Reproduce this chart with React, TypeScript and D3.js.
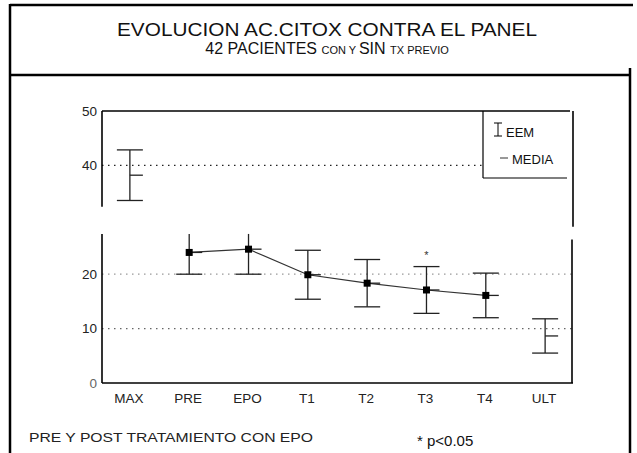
import React, { useEffect, useRef } from "react";
import * as d3 from "d3";

// valores (media y EEM)
const categories = ["MAX", "PRE", "EPO", "T1", "T2", "T3", "T4", "ULT"];
const means = [38.2, 24.0, 24.6, 19.9, 18.35, 17.1, 16.1, 8.65];
const sem = [4.65, 4.0, 4.6, 4.5, 4.35, 4.3, 4.1, 3.15];
const connected = ["PRE", "EPO", "T1", "T2", "T3", "T4"];
const significant = ["T3"];
const yTicks = [0, 10, 20, 40, 50];
const dottedLines = [40, 20, 10];

const W = 637;
const H = 453;
const left = 102, right = 573, top = 111, bottom = 383;
const legendLeft = 483, legendBottom = 178;

export default function App() {
  const ref = useRef<SVGSVGElement | null>(null);

  useEffect(() => {
    const svg = d3.select(ref.current);
    svg.selectAll("*").remove();

    const x = d3.scalePoint<string>().domain(categories).range([left, right]).padding(0.47);
    const y = d3.scaleLinear().domain([0, 50]).range([bottom, top]);
    const font = "'Liberation Sans', Arial, sans-serif";
    const breakLow = 27.4, breakHigh = 32.4;

    // marco general
    svg.append("line").attr("x1", 10).attr("x2", 633).attr("y1", 5).attr("y2", 5)
      .attr("stroke", "#000").attr("stroke-width", 2.5);
    svg.append("line").attr("x1", 10).attr("x2", 10).attr("y1", 4).attr("y2", H)
      .attr("stroke", "#000").attr("stroke-width", 2.5);
    svg.append("line").attr("x1", 10).attr("x2", 631).attr("y1", 75).attr("y2", 75)
      .attr("stroke", "#000").attr("stroke-width", 2.5);
    svg.append("line").attr("x1", 630).attr("x2", 630).attr("y1", 68).attr("y2", H)
      .attr("stroke", "#000").attr("stroke-width", 2.5);

    // titulo
    svg.append("text").attr("x", 327).attr("y", 36).attr("text-anchor", "middle")
      .attr("font-family", "'Liberation Sans Narrow', 'Liberation Sans', sans-serif")
      .attr("font-size", 18).attr("textLength", 420).attr("lengthAdjust", "spacingAndGlyphs")
      .attr("fill", "#111").text("EVOLUCION AC.CITOX CONTRA EL PANEL");
    const sub = svg.append("text").attr("x", 327).attr("y", 54).attr("text-anchor", "middle")
      .attr("font-family", "'Liberation Sans Narrow', 'Liberation Sans', sans-serif")
      .attr("fill", "#111");
    [["42 PACIENTES ", 16], ["CON Y ", 11], ["SIN ", 16], ["TX PREVIO", 11]].forEach(([t, s]) => {
      sub.append("tspan").attr("font-size", s as number).text(t as string);
    });

    // cuadricula punteada
    dottedLines.forEach((v) => {
      svg.append("line")
        .attr("x1", left).attr("x2", v === 40 ? legendLeft : right)
        .attr("y1", y(v)).attr("y2", y(v))
        .attr("stroke", v === 20 ? "#999" : v === 10 ? "#666" : "#222")
        .attr("stroke-width", v === 40 ? 1.3 : 1.2)
        .attr("stroke-dasharray", "1.5,4.5");
    });

    // ejes con corte
    const axis = svg.append("g").attr("stroke", "#000").attr("stroke-width", 1.6);
    axis.append("line").attr("x1", left).attr("x2", left).attr("y1", y(50)).attr("y2", y(breakHigh));
    axis.append("line").attr("x1", left).attr("x2", left).attr("y1", y(breakLow)).attr("y2", y(0));
    axis.append("line").attr("x1", left).attr("x2", right).attr("y1", y(0)).attr("y2", y(0));
    axis.append("line").attr("x1", left).attr("x2", right - 3).attr("y1", y(50)).attr("y2", y(50));
    axis.append("line").attr("x1", right).attr("x2", right).attr("y1", y(50)).attr("y2", y(28.7));
    axis.append("line").attr("x1", right - 1).attr("x2", right - 1).attr("y1", y(26.4)).attr("y2", y(0));

    // leyenda
    const leg = svg.append("g");
    leg.append("line").attr("x1", legendLeft).attr("x2", legendLeft).attr("y1", top).attr("y2", legendBottom)
      .attr("stroke", "#000").attr("stroke-width", 1.2);
    leg.append("line").attr("x1", legendLeft).attr("x2", right - 6).attr("y1", legendBottom).attr("y2", legendBottom)
      .attr("stroke", "#000").attr("stroke-width", 1.2);
    leg.append("path").attr("d", "M494,123 H502 M498,123 V136 M494,136 H502")
      .attr("stroke", "#000").attr("stroke-width", 1).attr("fill", "none");
    leg.append("text").attr("x", 506).attr("y", 137).attr("font-family", font)
      .attr("font-size", 13).attr("fill", "#111").text("EEM");
    leg.append("line").attr("x1", 500).attr("x2", 508).attr("y1", 158).attr("y2", 158)
      .attr("stroke", "#333").attr("stroke-width", 1);
    leg.append("text").attr("x", 512).attr("y", 164).attr("font-family", font)
      .attr("font-size", 13).attr("fill", "#111").text("MEDIA");

    // etiquetas de ejes
    svg.append("g").selectAll("text").data(yTicks).enter().append("text")
      .attr("x", 97).attr("y", (d) => y(d) + 4.5).attr("text-anchor", "end")
      .attr("font-family", font).attr("font-size", 13.5)
      .attr("fill", (d) => (d === 0 ? "#666" : "#222"))
      .text((d) => d);
    svg.append("g").selectAll("text").data(categories).enter().append("text")
      .attr("x", (d) => x(d)! - 1).attr("y", 403).attr("text-anchor", "middle")
      .attr("font-family", font).attr("font-size", 13.5).attr("fill", "#222")
      .text((d) => d);

    // linea de medias
    const pts = categories.map((c, i) => ({ c, m: means[i], e: sem[i] }));
    const line = d3.line<{ c: string; m: number }>().x((d) => x(d.c)!).y((d) => y(d.m));
    svg.append("path").datum(pts.filter((p) => connected.includes(p.c)))
      .attr("d", line).attr("fill", "none").attr("stroke", "#333").attr("stroke-width", 1.2);

    // barras de error
    const cap = 13;
    const bars = svg.append("g").attr("stroke", "#222").attr("stroke-width", 1.3).attr("fill", "none");
    pts.forEach((p) => {
      const cx = x(p.c)!;
      const limit = p.m > breakHigh ? 50 : breakLow;
      const hi = Math.min(p.m + p.e, limit);
      const lo = p.m - p.e;
      bars.append("line").attr("x1", cx).attr("x2", cx).attr("y1", y(hi)).attr("y2", y(lo));
      if (p.m + p.e <= limit) {
        bars.append("line").attr("x1", cx - cap).attr("x2", cx + cap).attr("y1", y(hi)).attr("y2", y(hi));
      }
      bars.append("line").attr("x1", cx - cap).attr("x2", cx + cap).attr("y1", y(lo)).attr("y2", y(lo));
      bars.append("line").attr("x1", cx).attr("x2", cx + cap).attr("y1", y(p.m)).attr("y2", y(p.m));
    });

    // marcadores
    svg.append("g").selectAll("rect").data(pts.filter((p) => connected.includes(p.c))).enter()
      .append("rect")
      .attr("x", (d) => x(d.c)! - 3.5).attr("y", (d) => y(d.m) - 3.5)
      .attr("width", 7).attr("height", 7).attr("fill", "#000");

    // significacion
    svg.append("g").selectAll("text").data(pts.filter((p) => significant.includes(p.c))).enter()
      .append("text")
      .attr("x", (d) => x(d.c)!).attr("y", (d) => y(d.m + d.e) - 8).attr("text-anchor", "middle")
      .attr("font-family", font).attr("font-size", 11).attr("fill", "#333").text("*");

    // pie
    svg.append("text").attr("x", 29).attr("y", 442).attr("font-family", font)
      .attr("font-size", 13).attr("textLength", 284).attr("lengthAdjust", "spacingAndGlyphs")
      .attr("fill", "#222").text("PRE Y POST TRATAMIENTO CON EPO");
    svg.append("text").attr("x", 417).attr("y", 446).attr("font-family", font)
      .attr("font-size", 15).attr("fill", "#111").text("* p<0.05");
  }, []);

  return (
    <svg
      ref={ref}
      width={W}
      height={H}
      style={{ position: "absolute", left: 0, top: 0, background: "#fff" }}
    />
  );
}
